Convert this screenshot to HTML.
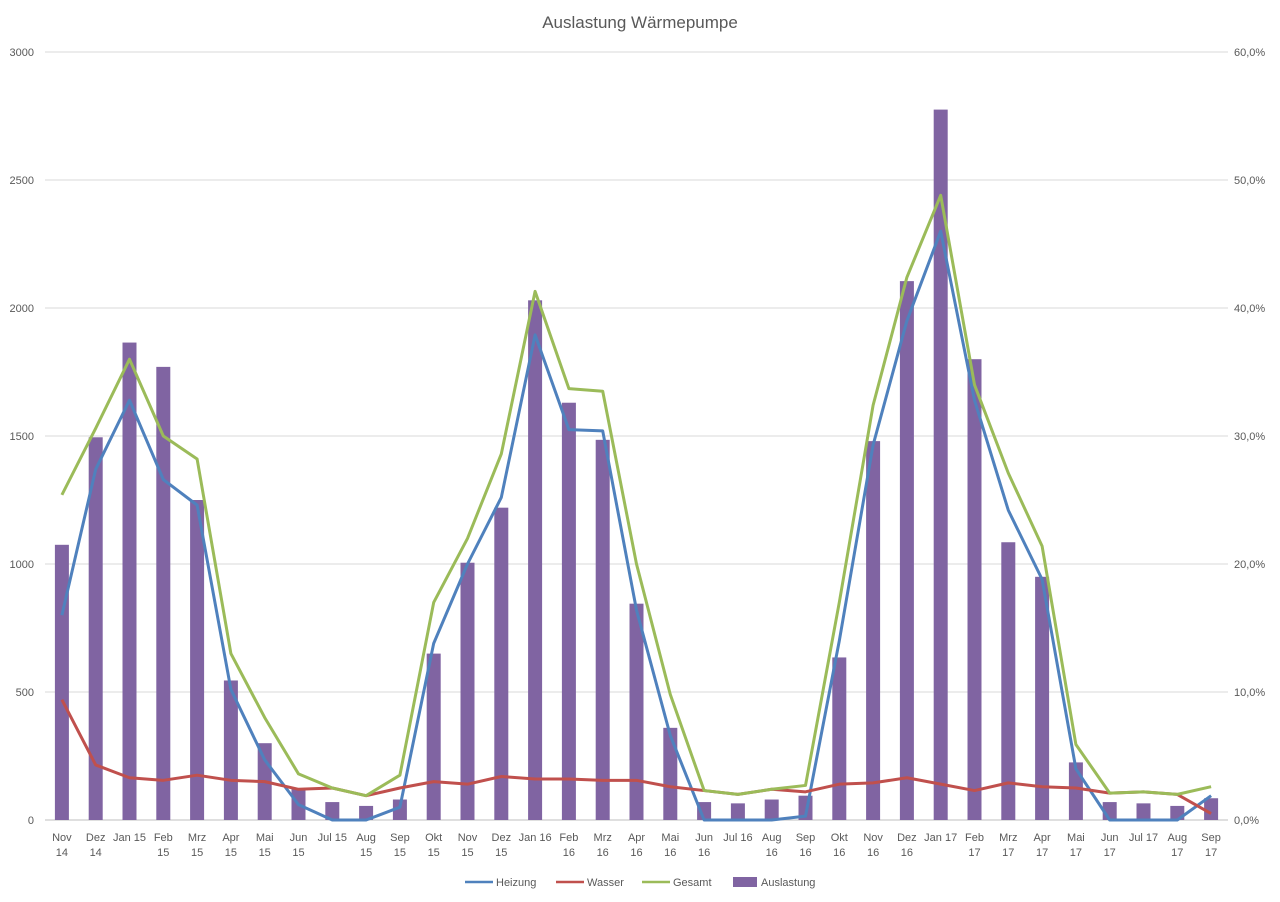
<!DOCTYPE html>
<html><head><meta charset="utf-8"><style>
body{margin:0;background:#fff;}
svg{display:block;font-family:"Liberation Sans",sans-serif;}
</style></head><body>
<svg id="chart" width="1280" height="902">
<text x="640" y="28" text-anchor="middle" font-size="17" fill="#595959">Auslastung Wärmepumpe</text>
<g id="grid"></g><g id="bars"></g><g id="lines"></g><g id="axes"></g>
<g font-size="11" fill="#595959">
<line x1="465" y1="882" x2="493" y2="882" stroke="#4f81bd" stroke-width="2.5"/><text x="496" y="886">Heizung</text>
<line x1="556" y1="882" x2="584" y2="882" stroke="#c0504d" stroke-width="2.5"/><text x="587" y="886">Wasser</text>
<line x1="642" y1="882" x2="670" y2="882" stroke="#9bbb59" stroke-width="2.5"/><text x="673" y="886">Gesamt</text>
<rect x="733" y="877" width="24" height="10" fill="#8064a2"/><text x="761" y="886">Auslastung</text>
</g>
</svg>
<script>
const categories=["Nov 14","Dez 14","Jan 15","Feb 15","Mrz 15","Apr 15","Mai 15","Jun 15","Jul 15","Aug 15","Sep 15","Okt 15","Nov 15","Dez 15","Jan 16","Feb 16","Mrz 16","Apr 16","Mai 16","Jun 16","Jul 16","Aug 16","Sep 16","Okt 16","Nov 16","Dez 16","Jan 17","Feb 17","Mrz 17","Apr 17","Mai 17","Jun 17","Jul 17","Aug 17","Sep 17"];
const auslastung=[21.5,29.9,37.3,35.4,25.0,10.9,6.0,2.5,1.4,1.1,1.6,13.0,20.1,24.4,40.6,32.6,29.7,16.9,7.2,1.4,1.3,1.6,1.9,12.7,29.6,42.1,55.5,36.0,21.7,19.0,4.5,1.4,1.3,1.1,1.7];
const heizung=[800,1370,1640,1330,1230,510,235,60,0,0,50,690,1000,1260,1895,1525,1520,820,330,0,0,0,15,700,1465,1950,2300,1640,1210,940,200,0,0,0,95];
const wasser=[470,215,165,155,175,155,150,120,125,95,125,150,140,170,160,160,155,155,130,115,100,120,110,140,145,165,140,115,145,130,125,105,110,100,25];
const gesamt=[1270,1530,1800,1500,1410,650,400,180,125,95,175,850,1100,1430,2065,1685,1675,1000,490,115,100,120,135,850,1620,2120,2440,1700,1355,1070,295,105,110,100,130];
const leftTicks=[0,500,1000,1500,2000,2500,3000];
const rightTicks=["0,0%","10,0%","20,0%","30,0%","40,0%","50,0%","60,0%"];
const NS="http://www.w3.org/2000/svg";
const X0=45,X1=1228,Y0=820,Y1=52;
const step=(X1-X0)/categories.length;
const xc=i=>X0+step*(i+0.5);
const yL=v=>Y0-(v/3000)*(Y0-Y1);
const yR=p=>Y0-(p/60)*(Y0-Y1);
function mk(tag,attrs,parent){const e=document.createElementNS(NS,tag);for(const k in attrs)e.setAttribute(k,attrs[k]);parent.appendChild(e);return e;}
const grid=document.getElementById('grid'),axes=document.getElementById('axes');
leftTicks.forEach((t,i)=>{
 const g=mk('line',{x1:X0,x2:X1,y1:yL(t),y2:yL(t),stroke:i==0?'#bfbfbf':'#d9d9d9','stroke-width':1},grid);
 
 
 const a=mk('text',{x:34,y:yL(t)+4,'text-anchor':'end','font-size':11,fill:'#595959'},axes);a.textContent=t;
 
 
 const b=mk('text',{x:1234,y:yL(t)+4,'font-size':11,fill:'#595959'},axes);b.textContent=rightTicks[i];
 
 
});
categories.forEach((c,i)=>{
 const parts=c.split(' ');
 const t=mk('text',{x:xc(i),y:841,'text-anchor':'middle','font-size':11,fill:'#595959'},axes);
 
 
 if(c==="Jan 15"||c==="Jan 16"||c==="Jan 17"||c==="Jul 15"||c==="Jul 16"||c==="Jul 17"){t.textContent=c;}
 else{t.textContent=parts[0];const t2=mk('text',{x:xc(i),y:856,'text-anchor':'middle','font-size':11,fill:'#595959'},axes);t2.textContent=parts[1];
 
 }
});
const bars=document.getElementById('bars');
auslastung.forEach((v,i)=>{
 const r=mk('rect',{x:xc(i)-7,y:yR(v),width:14,height:Y0-yR(v),fill:'#8064a2'},bars);
 
 
});
const lines=document.getElementById('lines');
[[heizung,'#4f81bd','line-heizung'],[wasser,'#c0504d','line-wasser'],[gesamt,'#9bbb59','line-gesamt']].forEach(([d,col,n])=>{
 const p=mk('polyline',{points:d.map((v,i)=>xc(i)+','+yL(v)).join(' '),fill:'none',stroke:col,'stroke-width':3,'stroke-linejoin':'round'},lines);
 
 
});
</script>
</body></html>
